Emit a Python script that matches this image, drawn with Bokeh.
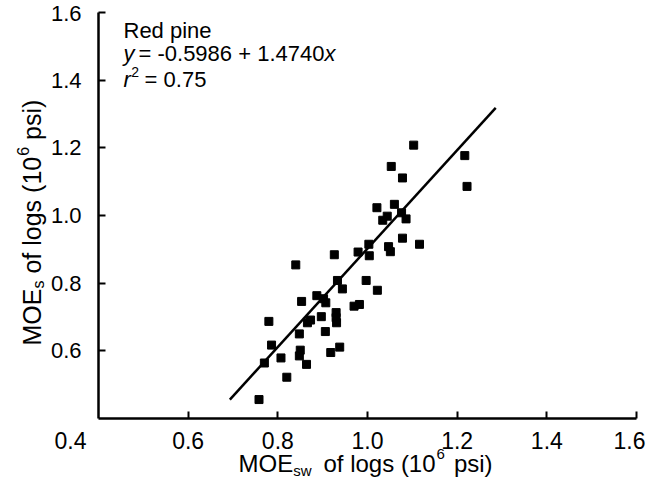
from math import pi
from bokeh.plotting import figure
from bokeh.models import Label, Range1d, FixedTicker, NumeralTickFormatter
from bokeh.embed import file_html
from bokeh.resources import INLINE

# ---------------- data ----------------
moe_sw = [1.103, 1.217, 1.053, 1.078, 1.222, 1.021, 1.060, 1.076, 1.044, 1.034,
          1.086, 1.078, 1.116, 1.047, 1.051, 1.003, 0.979, 1.004, 0.926, 0.840,
          0.933, 0.997, 0.944, 1.022, 0.887, 0.902, 0.907, 0.853, 0.970, 0.982,
          0.930, 0.930, 0.931, 0.897, 0.873, 0.866, 0.780, 0.848, 0.906, 0.786,
          0.938, 0.918, 0.850, 0.848, 0.807, 0.864, 0.770, 0.820, 0.758]
moe_s = [1.208, 1.177, 1.145, 1.111, 1.086, 1.023, 1.033, 1.008, 0.998, 0.986,
         0.990, 0.933, 0.915, 0.908, 0.893, 0.915, 0.892, 0.881, 0.884, 0.854,
         0.808, 0.808, 0.783, 0.779, 0.763, 0.754, 0.742, 0.746, 0.732, 0.737,
         0.713, 0.698, 0.683, 0.701, 0.691, 0.683, 0.687, 0.650, 0.657, 0.617,
         0.611, 0.595, 0.602, 0.585, 0.579, 0.560, 0.564, 0.522, 0.456]
fit_x = [0.693, 1.286]
fit_y = [0.456, 1.318]
axis_min, axis_max = 0.4, 1.6
x_ticks = [0.6, 0.8, 1.0, 1.2, 1.4, 1.6]
y_ticks = [0.6, 0.8, 1.0, 1.2, 1.4, 1.6]
x_first_label = "0.4"
x_last_label = "1.6"
y_top_label = "1.6"
species = "Red pine"
equation = ["y", "= -0.5986 + 1.4740", "x"]
r2_text = ["r", "2", "= 0.75"]
x_label = ["MOE", "sw", "of logs (10", "6", "psi)"]
y_label = ["MOE", "s", "of logs (10", "6", "psi)"]

# ---------------- styling / layout ----------------
FONT = "Liberation Sans"
W, H = 647, 479
# canvas pixel positions of the axis ends (0.4 and 1.6)
PX0, PX1 = 98.0, 636.0
PY0, PY1 = 418.0, 12.0
SX = (PX1 - PX0) / (axis_max - axis_min)
SY = (PY0 - PY1) / (axis_max - axis_min)
BASE_FIX = 0.35  # measured drop of an "alphabetic" label, in em


def dx(px):
    return axis_min + (px - PX0) / SX


def dy(py):
    return axis_min + (PY0 - py) / SY


AW = {' ': 278, '(': 333, ')': 333, '+': 584, '-': 333, '.': 278, '=': 584,
      'M': 833, 'O': 778, 'E': 667, 'R': 722,
      'a': 556, 'd': 556, 'e': 556, 'f': 278, 'g': 556, 'i': 222, 'l': 222,
      'n': 556, 'o': 556, 'p': 556, 'r': 333, 's': 500, 'w': 722, 'x': 500, 'y': 500}


def tw(s, size):
    return sum(AW.get(c, 556) for c in s) * size / 1000.0


p = figure(width=W, height=H,
           x_range=Range1d(dx(0), dx(W)), y_range=Range1d(dy(H), dy(0)),
           output_backend="svg", toolbar_location=None,
           min_border_left=0, min_border_right=0,
           min_border_top=0, min_border_bottom=0)
p.grid.visible = False
p.outline_line_color = None

XT, YT = 23, 22
for ax in (p.xaxis[0], p.yaxis[0]):
    ax.fixed_location = axis_min
    ax.bounds = (axis_min, axis_max)
    ax.axis_line_width = 2.5
    ax.axis_line_color = "black"
    ax.major_tick_in = 7
    ax.major_tick_out = 0
    ax.major_tick_line_width = 2
    ax.major_tick_line_color = "black"
    ax.minor_tick_line_color = None
    ax.major_label_text_font = FONT
    ax.major_label_text_color = "black"
    ax.formatter = NumeralTickFormatter(format="0.0")

p.xaxis.ticker = FixedTicker(ticks=x_ticks)
p.yaxis.ticker = FixedTicker(ticks=y_ticks)
p.xaxis.major_label_text_font_size = f"{XT}px"
p.yaxis.major_label_text_font_size = f"{YT}px"
p.xaxis.major_label_standoff = 13
p.yaxis.major_label_standoff = 17
p.xaxis.major_label_overrides = {1.6: ""}
p.yaxis.major_label_overrides = {1.6: ""}

p.scatter(moe_sw, moe_s, marker="square", size=8, color="black")
p.line(fit_x, fit_y, line_width=2.5, color="black")


def put(text, px, py, size, style="normal", angle=0.0,
        align="left", baseline="alphabetic"):
    if baseline == "alphabetic":
        if angle == 0.0:
            py -= BASE_FIX * size
        else:
            px -= BASE_FIX * size
    p.add_layout(Label(x=dx(px), y=dy(py), text=text, angle=angle,
                       text_font=FONT, text_font_size=f"{size}px",
                       text_font_style=style, text_color="black",
                       text_align=align, text_baseline=baseline))


# tick labels placed by hand near the canvas edges
put(x_first_label, 70, 431, XT, align="center", baseline="top")
put(x_last_label, 645, 431, XT, align="right", baseline="top")
put(y_top_label, 81, 13, YT, align="right", baseline="middle")

# annotation block (baselines as in the reference)
A = 22
put(species, 123, 38, A)
put(equation[0], 123, 61, A, "italic")
x2 = 123 + tw(equation[0], A) + 4
put(equation[1], x2, 61, A)
put(equation[2], x2 + tw(equation[1], A), 61, A, "italic")
put(r2_text[0], 123, 87, A, "italic")
put(r2_text[1], 123 + tw("r", A) + 0.5, 76, 14)
put(r2_text[2], 123 + tw("r", A) + tw("2", 14) + 6, 87, A)

# x axis title (kept inside the canvas)
T, S = 24, 15
bx, by = 238, 471
put(x_label[0], bx, by, T)
sx = bx + tw(x_label[0], T)
put(x_label[1], sx, by + 4, S)
ox = sx + tw(x_label[1], S) + 12
put(x_label[2], ox, by, T)
sup = ox + tw(x_label[2], T) + 1
put(x_label[3], sup, by - 12, S)
put(x_label[4], sup + tw(x_label[3], S) + 9, by, T)

# y axis title (rotated, reading upwards)
TY, SYS = 25, 16
ax_, ay = 40, 345
put(y_label[0], ax_, ay, TY, angle=pi / 2)
sy = ay - tw(y_label[0], TY)
put(y_label[1], ax_ + 4, sy, SYS, angle=pi / 2)
oy = sy - tw(y_label[1], SYS) - 7
put(y_label[2], ax_, oy, TY, angle=pi / 2)
sup_y = oy - tw(y_label[2], TY) - 1
put(y_label[3], ax_ - 12, sup_y, SYS, angle=pi / 2)
put(y_label[4], ax_, sup_y - tw(y_label[3], SYS) - 7, TY, angle=pi / 2)

open("out.html", "w").write(file_html(p, INLINE))
